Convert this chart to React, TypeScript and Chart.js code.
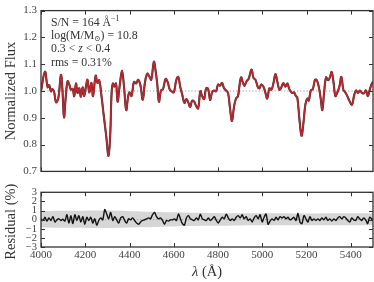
import React, { useEffect, useRef } from "react";
import { Chart, registerables } from "chart.js";

Chart.register(...registerables);

// ---- Data ----
const fluxWave = [
  4000, 4018, 4030, 4037, 4045, 4051, 4059, 4068, 4078, 4090, 4096, 4104, 4111, 4120, 4128, 4135, 4143, 4150,
  4158, 4165, 4173, 4180, 4188, 4195, 4203, 4210, 4218, 4228, 4235, 4247, 4255, 4263, 4274, 4283, 4295, 4305,
  4313, 4319, 4325, 4331, 4339, 4346, 4355, 4366, 4375, 4385, 4394, 4400, 4409, 4420, 4430, 4439, 4449, 4460,
  4469, 4480, 4490, 4498, 4510, 4517, 4525, 4533, 4542, 4551, 4563, 4572, 4581, 4590, 4600, 4611, 4620, 4629,
  4638, 4648, 4657, 4665, 4674, 4683, 4692, 4701, 4710, 4720, 4728, 4737, 4746, 4755, 4764, 4773, 4782, 4791,
  4800, 4809, 4818, 4827, 4836, 4845, 4854, 4863, 4872, 4881, 4890, 4896, 4904, 4911, 4919, 4929, 4938, 4951,
  4960, 4969, 4980, 4987, 4995, 5005, 5014, 5022, 5032, 5041, 5050, 5059, 5068, 5077, 5086, 5095, 5104, 5113,
  5122, 5134, 5143, 5152, 5158, 5167, 5177, 5186, 5195, 5204, 5210, 5219, 5228, 5238, 5246, 5255, 5264, 5271,
  5279, 5288, 5297, 5306, 5313, 5321, 5330, 5339, 5348, 5357, 5366, 5375, 5384, 5393, 5405, 5414, 5423, 5432,
  5441, 5450, 5459, 5468, 5477, 5486, 5495, 5500,
];
const fluxValues = [
  1.0, 1.072, 1.014, 1.022, 0.999, 1.007, 0.997, 0.958, 0.972, 1.06, 1.016, 0.902, 0.97, 1.036, 1.024, 1.005, 1.008, 0.981,
  1.028, 0.993, 1.01, 0.979, 1.014, 0.981, 1.016, 1.042, 0.995, 1.03, 0.981, 1.057, 1.03, 1.04, 0.976, 0.912, 0.83, 0.758,
  0.842, 0.993, 1.028, 1.016, 1.028, 0.96, 1.016, 1.076, 1.016, 0.929, 0.981, 0.995, 0.981, 1.034, 1.028, 1.042, 1.022, 0.967,
  1.028, 1.065, 1.053, 1.042, 1.109, 1.08, 1.028, 0.96, 1.002, 1.007, 1.045, 1.034, 1.007, 0.999, 0.995, 1.04, 1.053, 1.016,
  0.987, 0.956, 0.97, 0.958, 0.941, 0.964, 0.96, 0.944, 0.935, 0.999, 0.981, 0.97, 1.01, 1.008, 0.967, 0.995, 1.002, 0.999,
  1.024, 1.02, 1.03, 1.01, 1.002, 0.993, 0.935, 0.888, 0.941, 0.972, 0.981, 1.016, 1.051, 1.034, 1.019, 1.037, 1.045, 1.08,
  1.049, 1.042, 1.014, 1.01, 1.024, 1.016, 0.993, 0.972, 1.01, 1.005, 1.028, 1.063, 1.034, 1.005, 1.014, 1.03, 1.016, 1.028,
  1.007, 0.993, 0.995, 0.981, 0.976, 0.9, 0.833, 0.883, 0.952, 0.972, 0.964, 1.002, 1.007, 1.042, 1.04, 1.016, 0.97, 0.929,
  0.993, 1.051, 1.04, 1.053, 1.071, 1.037, 0.981, 0.995, 1.016, 1.053, 1.005, 0.995, 0.981, 0.964, 0.949, 0.981, 1.002, 0.993,
  1.002, 0.993, 0.991, 1.002, 0.981, 1.007, 1.028, 1.034,
];

const resWave = [
  4000, 4009, 4018, 4027, 4036, 4045, 4054, 4063, 4072, 4081, 4090, 4099, 4108, 4117, 4126, 4135, 4144, 4153, 4162, 4171,
  4180, 4189, 4198, 4207, 4216, 4225, 4234, 4243, 4252, 4261, 4270, 4279, 4288, 4297, 4306, 4315, 4324, 4333, 4342, 4351,
  4360, 4369, 4378, 4387, 4396, 4405, 4414, 4423, 4432, 4441, 4450, 4459, 4468, 4477, 4486, 4495, 4504, 4513, 4522, 4531,
  4540, 4549, 4558, 4567, 4576, 4585, 4594, 4603, 4612, 4621, 4630, 4639, 4648, 4657, 4666, 4675, 4684, 4693, 4702, 4711,
  4720, 4729, 4738,
  4747, 4756, 4765, 4774, 4783, 4792, 4801, 4810, 4819, 4828, 4837, 4846, 4855, 4864, 4873, 4882, 4891, 4900, 4909, 4918,
  4927, 4936, 4945, 4954, 4963, 4972, 4981, 4990, 4999, 5008, 5017, 5026, 5035, 5044, 5053, 5062, 5071, 5080, 5089, 5098,
  5107, 5116, 5125, 5134, 5143, 5152, 5161, 5170, 5179, 5188, 5197, 5206, 5215, 5224, 5233, 5242, 5251, 5260, 5269, 5278,
  5287, 5296, 5305, 5314, 5323, 5332, 5341, 5350, 5359, 5368, 5377, 5386, 5395, 5404, 5413, 5422, 5431, 5440, 5449, 5458,
  5467, 5476, 5485, 5500,
];
const resValues = [
  0.09, -0.09, 0.26, -0.16, 0.19, -0.09, 0.33, -0.26, -0.02, 0.09, -0.09, 0.05, -0.16, 0.54, -0.37, 0.44, -0.44, 0.54, -0.09, 0.44,
  -0.26, 0.33, -0.51, 0.26, -0.09, 0.26, -0.37, 0.09, -0.61, -0.09, 0.19, -0.02, 1.1, 0.61, 0.09, 0.79, -0.09, 0.33, -0.02, -0.37,
  0.19, 0.33, -0.09, -0.37, 0.09, -0.02, 0.19, -0.09, -0.37, -0.51, -0.26, -0.09, -0.02, 0.09, 0.19, 0.09, 0.54, 0.79, 0.33, 0.09,
  0.19, -0.09, -0.51, -0.09, -0.16, -0.02, -0.02, 0.09, -0.09, 0.61, 0.09, -0.44, -0.61, 0.19, 0.44, 0.09, -0.02, -0.09, 0.19, -0.02,
  0.61, 0.09, -0.02,
  -0.09, 0.19, -0.09, 0.09, 0.33, -0.09, -0.37, -0.02, 0.26, 0.09, 0.61, 0.19, -0.09, 0.09, -0.09, 0.26, 0.44, 0.19, 0.54, 0.09,
  0.33, -0.09, 0.09, -0.26, 0.19, 0.44, 0.09, 0.54, -0.26, 0.26, 0.61, -0.51, -0.16, 0.09, -0.09, 0.26, -0.02, 0.33, 0.19, 0.33,
  0.09, 0.26, -0.02, 0.09, 0.26, -0.09, 0.68, -0.26, -0.44, 0.44, 0.09, -0.26, 0.33, -0.09, 0.09, -0.09, 0.09, -0.09, 0.19, -0.02,
  0.26, -0.09, 0.09, -0.16, 0.09, -0.09, 0.19, 0.33, 0.09, 0.33, 0.19, -0.09, -0.26, 0.19, -0.02, -0.09, 0.33, 0.09, -0.09, 0.19,
  -0.02, -0.44, 0.26, -0.09,
];

const bandWave = [4000, 4150, 4300, 4450, 4600, 4750, 4900, 5050, 5200, 5350, 5500];
const bandUpper = [0.96, 0.98, 1.0, 0.9, 0.8, 0.72, 0.7, 0.7, 0.68, 0.7, 0.7];
const bandLower = [-0.86, -0.9, -0.92, -0.84, -0.74, -0.68, -0.63, -0.62, -0.62, -0.62, -0.62];

const waveRange = [4000, 5500];
const waveTicks = [4000, 4200, 4400, 4600, 4800, 5000, 5200, 5400];
const fluxRange = [0.7, 1.3];
const fluxTicks = [0.7, 0.8, 0.9, 1.0, 1.1, 1.2, 1.3];
const fluxReference = 1.0;
const resRange = [-3, 3];
const resTicks = [-3, -2, -1, 0, 1, 2, 3];
const resReference = 0;

const fluxTitle = "Normalized Flux";
const resTitle = "Residual (%)";
const waveTitleSymbol = "λ";
const waveTitleUnit = " (Å)";

const FONT = "'Liberation Serif', 'DejaVu Serif', serif";
const TEXT = "#333";
const TICK_TEXT = "#444";
const FRAME = "#333";

type Run = { text: string; size: number; italic?: boolean; dy?: number };

function drawRuns(ctx: CanvasRenderingContext2D, x: number, y: number, runs: Run[], align: "left" | "center" = "left") {
  let total = 0;
  for (const r of runs) {
    ctx.font = `${r.italic ? "italic " : ""}${r.size}px ${FONT}`;
    total += ctx.measureText(r.text).width;
  }
  let cx = align === "center" ? x - total / 2 : x;
  ctx.textAlign = "left";
  for (const r of runs) {
    ctx.font = `${r.italic ? "italic " : ""}${r.size}px ${FONT}`;
    ctx.fillText(r.text, cx, y + (r.dy || 0));
    cx += ctx.measureText(r.text).width;
  }
}

const framePlugin = {
  id: "frameTicks",
  afterDatasetsDraw(chart: any) {
    const { ctx, chartArea: a, scales } = chart;
    ctx.save();
    ctx.strokeStyle = FRAME;
    ctx.lineWidth = 1;
    const L = 4;
    const xs = scales.x;
    xs.ticks.forEach((t: any) => {
      const px = Math.round(xs.getPixelForValue(t.value)) + 0.5;
      ctx.beginPath();
      ctx.moveTo(px, a.top);
      ctx.lineTo(px, a.top + L);
      ctx.moveTo(px, a.bottom);
      ctx.lineTo(px, a.bottom - L);
      ctx.stroke();
    });
    const ys = scales.y;
    ys.ticks.forEach((t: any) => {
      const py = Math.round(ys.getPixelForValue(t.value)) + 0.5;
      ctx.beginPath();
      ctx.moveTo(a.left, py);
      ctx.lineTo(a.left + L, py);
      ctx.moveTo(a.right, py);
      ctx.lineTo(a.right - L, py);
      ctx.stroke();
    });
    ctx.lineWidth = 1.3;
    ctx.strokeRect(a.left, a.top, a.right - a.left, a.bottom - a.top);
    ctx.restore();
  },
};

function makeTitlePlugin(kind: "top" | "bottom") {
  return {
    id: "titles_" + kind,
    afterDraw(chart: any) {
      const { ctx, chartArea: a } = chart;
      ctx.save();
      ctx.fillStyle = TEXT;
      ctx.textBaseline = "middle";
      ctx.save();
      ctx.translate(11, (a.top + a.bottom) / 2 + (kind === "bottom" ? 2 : 0));
      ctx.rotate(-Math.PI / 2);
      ctx.textAlign = "center";
      ctx.font = `14.5px ${FONT}`;
      ctx.fillText(kind === "top" ? fluxTitle : resTitle, 0, 0);
      ctx.restore();
      if (kind === "top") {
        ctx.textBaseline = "alphabetic";
        const x0 = 51;
        drawRuns(ctx, x0, 25.5, [
          { text: "S/N = 164 Å", size: 11.8 },
          { text: "−1", size: 8, dy: -5 },
        ]);
        drawRuns(ctx, x0, 38.8, [
          { text: "log(M/M", size: 11.8 },
          { text: "⊙", size: 7.5, dy: 2 },
          { text: ") = 10.8", size: 11.8 },
        ]);
        drawRuns(ctx, x0, 52.2, [
          { text: "0.3 < ", size: 11.8 },
          { text: "z", size: 11.8, italic: true },
          { text: " < 0.4", size: 11.8 },
        ]);
        drawRuns(ctx, x0, 65.5, [{ text: "rms = 0.31%", size: 11.8 }]);
      } else {
        ctx.textBaseline = "middle";
        drawRuns(
          ctx,
          (a.left + a.right) / 2,
          a.bottom + 25,
          [
            { text: waveTitleSymbol, size: 14.5, italic: true },
            { text: waveTitleUnit, size: 14.5 },
          ],
          "center"
        );
      }
      ctx.restore();
    },
  };
}

function setTicks(values: number[]) {
  return (scale: any) => {
    scale.ticks = values.map((v) => ({ value: v }));
  };
}

export default function App() {
  const topRef = useRef<HTMLCanvasElement>(null);
  const botRef = useRef<HTMLCanvasElement>(null);

  useEffect(() => {
    const fluxPts = fluxWave.map((w, i) => ({ x: w, y: fluxValues[i] }));
    const resPts = resWave.map((w, i) => ({ x: w, y: resValues[i] }));
    const upPts = bandWave.map((w, i) => ({ x: w, y: bandUpper[i] }));
    const loPts = bandWave.map((w, i) => ({ x: w, y: bandLower[i] }));

    const top = new Chart(topRef.current!, {
      type: "line",
      data: {
        datasets: [
          {
            data: fluxPts,
            borderColor: "#be262d",
            borderWidth: 1.6,
            pointRadius: 0,
            tension: 0.4,
            order: 0,
          },
          {
            data: fluxPts,
            borderColor: "#333",
            borderWidth: 2.1,
            pointRadius: 0,
            tension: 0.4,
            order: 1,
          },
          {
            data: [
              { x: waveRange[0], y: fluxReference },
              { x: waveRange[1], y: fluxReference },
            ],
            borderColor: "#9a9a9a",
            borderWidth: 1,
            borderDash: [1.2, 2],
            pointRadius: 0,
            order: 2,
          },
        ],
      },
      options: {
        responsive: false,
        maintainAspectRatio: false,
        animation: false,
        devicePixelRatio: 1,
        layout: { padding: { top: 6, right: 1, left: 0, bottom: 0 } },
        plugins: { legend: { display: false }, tooltip: { enabled: false } },
        scales: {
          x: {
            type: "linear",
            min: waveRange[0],
            max: waveRange[1],
            ticks: { display: false },
            grid: { display: false, drawTicks: false },
            border: { display: false },
            afterBuildTicks: setTicks(waveTicks),
            afterFit: (s: any) => {
              s.height = 4.5;
            },
          },
          y: {
            type: "linear",
            min: fluxRange[0],
            max: fluxRange[1],
            ticks: {
              autoSkip: false,
              padding: 4,
              color: TICK_TEXT,
              font: { family: FONT, size: 11 },
              callback: (v: any) => Number(v).toFixed(1),
            },
            grid: { display: false, drawTicks: false },
            border: { display: false },
            afterBuildTicks: setTicks(fluxTicks),
            afterFit: (s: any) => {
              s.width = 41;
            },
          },
        },
      } as any,
      plugins: [framePlugin, makeTitlePlugin("top")],
    });

    const bot = new Chart(botRef.current!, {
      type: "line",
      data: {
        datasets: [
          {
            data: resPts,
            borderColor: "#111",
            borderWidth: 1.4,
            pointRadius: 0,
            tension: 0.3,
            order: 0,
          },
          {
            data: [
              { x: waveRange[0], y: resReference },
              { x: waveRange[1], y: resReference },
            ],
            borderColor: "#9a9a9a",
            borderWidth: 1,
            borderDash: [1.2, 2],
            pointRadius: 0,
            order: 1,
          },
          {
            data: upPts,
            borderWidth: 0,
            borderColor: "rgba(0,0,0,0)",
            backgroundColor: "#d6d6d6",
            pointRadius: 0,
            tension: 0.4,
            fill: "+1",
            order: 2,
          },
          {
            data: loPts,
            borderWidth: 0,
            borderColor: "rgba(0,0,0,0)",
            pointRadius: 0,
            tension: 0.4,
            fill: false,
            order: 3,
          },
        ],
      },
      options: {
        responsive: false,
        maintainAspectRatio: false,
        animation: false,
        devicePixelRatio: 1,
        layout: { padding: { top: 8, right: 1, left: 0, bottom: 0 } },
        plugins: { legend: { display: false }, tooltip: { enabled: false }, filler: { propagate: false } },
        scales: {
          x: {
            type: "linear",
            min: waveRange[0],
            max: waveRange[1],
            ticks: {
              autoSkip: false,
              maxRotation: 0,
              padding: 2,
              color: TICK_TEXT,
              font: { family: FONT, size: 11 },
              callback: (v: any) => String(v),
            },
            grid: { display: false, drawTicks: false },
            border: { display: false },
            afterBuildTicks: setTicks(waveTicks),
            afterFit: (s: any) => {
              s.height = 35;
            },
          },
          y: {
            type: "linear",
            min: resRange[0],
            max: resRange[1],
            ticks: {
              autoSkip: false,
              padding: 4,
              color: TICK_TEXT,
              font: { family: FONT, size: 10.5 },
              callback: (v: any) => String(v).replace("-", "−"),
            },
            grid: { display: false, drawTicks: false },
            border: { display: false },
            afterBuildTicks: setTicks(resTicks),
            afterFit: (s: any) => {
              s.width = 41;
            },
          },
        },
      } as any,
      plugins: [framePlugin, makeTitlePlugin("bottom")],
    });

    return () => {
      top.destroy();
      bot.destroy();
    };
  }, []);

  return (
    <div style={{ position: "fixed", left: 0, top: 0, width: 374, height: 282, background: "#fff" }}>
      <canvas ref={topRef} width={374} height={182} style={{ position: "absolute", left: 0, top: 0 }} />
      <canvas ref={botRef} width={374} height={100} style={{ position: "absolute", left: 0, top: 182 }} />
    </div>
  );
}
